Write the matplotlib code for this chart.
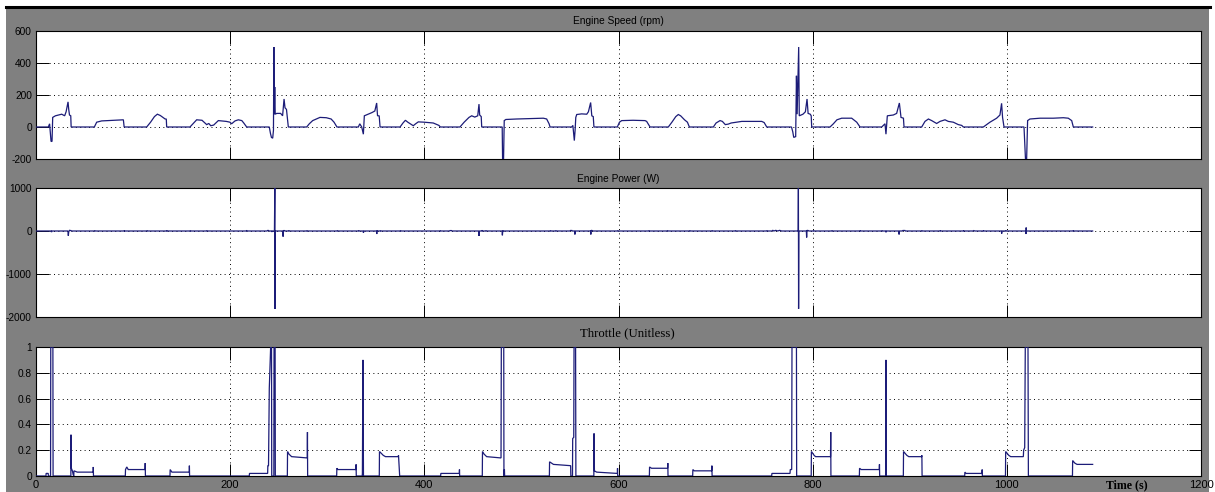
import matplotlib
matplotlib.use("Agg")
import matplotlib.pyplot as plt
from matplotlib.patches import Rectangle
from matplotlib.lines import Line2D

# ---------------------------------------------------------------- data
# (time [s], value) vertices of each recorded signal
speed_trace = [
    (0, 0), (12.7, 0), (14.0, 20), (15.5, -90), (16.5, -90), (17.2, 60), (20, 70), (26.5, 80),
    (29.5, 70), (31.0, 95), (33.0, 157), (33.7, 110), (34.5, 75), (35.8, 70), (36.2, 0),
    (60.1, 0), (62.5, 30), (67.6, 38), (80, 42), (90, 45), (90.8, 0),
    (114, 0), (118, 30), (122, 65), (125, 80), (128, 72), (133, 50), (134.2, 50), (134.6, 0),
    (158.6, 0), (165.5, 45), (171, 42), (175.8, 15), (178, 22), (180, 8), (183, 12), (187.8, 40),
    (196, 35), (199.8, 30), (201.5, 20), (205, 38), (208.4, 45), (212, 40), (214, 25), (217, 0),
    (240.3, 0), (241.5, -40), (242.5, -65), (243.8, -70), (244.6, -20), (245.0, 500), (245.4, 80),
    (245.9, 250), (246.4, 80), (248, 85), (252, 85), (254, 70), (255.5, 175), (256.5, 120),
    (258, 110), (259.9, 0),
    (278.8, 0), (281.5, 20), (285, 40), (292.5, 60), (299, 58), (304, 50), (307, 30), (310, 0),
    (332, 0), (333.5, 20), (335.5, 0), (337.2, -45), (338.2, 70), (342, 80), (346, 90), (349, 100),
    (350.9, 150), (351.8, 70), (353.5, 70), (354.4, 0),
    (375, 0), (378, 25), (380.5, 42), (383, 30), (388.6, 8), (391, 20), (393.8, 32), (400, 30),
    (409.2, 25), (415, 10), (416.5, 0),
    (436.7, 0), (441, 30), (446, 60), (448.8, 70), (452, 62), (455, 70), (456.3, 143), (457, 75),
    (458.6, 65), (459.1, 0),
    (480.2, 0), (480.6, -200), (481.6, -200), (482.3, 40), (484, 47), (495, 50), (505, 52),
    (512.3, 53), (522.6, 55), (526, 50), (528.5, 20), (529.5, 0),
    (551.8, 0), (553, 10), (554.5, -85), (555.3, -20), (556, 60), (557, 78), (562, 82), (567.3, 80),
    (569, 95), (571.3, 153), (572.5, 70), (574, 65), (574.7, 0),
    (598.8, 0), (601, 30), (603.3, 40), (615, 42), (627.3, 40), (629, 35), (632.5, 0),
    (651.3, 0), (655, 30), (659, 65), (661.6, 78), (664, 70), (668, 45), (671, 30), (673, 0),
    (697.7, 0), (700.5, 25), (704.6, 40), (707, 35), (710, 15), (713, 18), (716, 25), (721.7, 30),
    (727, 35), (735, 35), (747.5, 35), (750, 28), (752.7, 0),
    (778.2, 0), (779.5, -30), (780.5, -65), (782.5, -60), (783.3, 320), (784, 80), (785.6, 500),
    (786.2, 70), (790, 80), (792.5, 95), (794.2, 175), (795.3, 85), (797.5, 80), (798.5, 70),
    (799, 0),
    (817.9, 0), (821.3, 20), (825, 45), (829.9, 55), (840.2, 55), (845.4, 30), (848.8, 0),
    (871.1, 0), (874.5, 20), (875.5, -45), (876.9, 70), (883.1, 75), (886.5, 85), (889.3, 150),
    (891, 60), (893.5, 55), (894.1, 0),
    (912.3, 0), (915.7, 35), (919.2, 50), (922.6, 40), (927.7, 22), (931.2, 35), (936.3, 45),
    (939.7, 35), (944.9, 30), (950, 15), (953.5, 10), (955.2, 0),
    (975.8, 0), (982.6, 30), (989.5, 55), (992.9, 75), (994.6, 148), (995.6, 60), (997.1, 0),
    (1017.7, 0), (1019.2, -200), (1020.4, -200), (1021.4, 40), (1023.8, 50), (1034.2, 55),
    (1047.9, 55), (1058.2, 58), (1063.3, 55), (1066.8, 40), (1068.5, 0),
    (1088.4, 0),
]

power_trace = [
    (0, 0), (15.6, 0), (16.0, -25), (16.4, 0), (32.9, 0), (33.3, -110), (33.7, -20), (34.5, 15),
    (36, 10), (36.5, 0),
    (60, 0), (60.5, 10), (61, 0), (90.5, 0), (91, 12), (91.5, 0), (114, 0), (114.5, 10), (115, 0),
    (134.4, 0), (134.8, 12), (135.2, 0),
    (158.6, 0), (159, 10), (159.5, 0), (175.5, 0), (176, 10), (176.5, 0), (216.5, 0), (217, 15),
    (217.5, 0), (238, 0), (238.5, 12), (239.5, 12), (240, 0),
    (242.5, 0), (243, -20), (243.5, 0), (245.6, 0), (245.8, 430), (246.0, 1000), (246.2, -1810),
    (246.5, 0),
    (254.2, 0), (254.5, -130), (254.9, 10), (256, 10), (256.4, 0), (260, 0), (260.5, 12), (261, 0),
    (278.8, 0), (279.2, 10), (279.6, 0),
    (310, 0), (310.5, 10), (311, 0), (332, 0), (332.5, 12), (333, 0), (337, 0), (337.3, -40),
    (337.6, 0), (350.7, 0), (351, -70), (351.3, 10), (352, 0), (354.4, 0), (354.8, 10), (355.2, 0),
    (375, 0), (375.5, 10), (376, 0), (416, 0), (416.5, 10), (417, 0), (426, 0), (426.5, 10),
    (428, 10), (428.5, 0),
    (456, 0), (456.3, -115), (456.7, 0), (459, 0), (459.5, 15), (460, 0), (463, 0), (463.5, 10),
    (464, 0), (480.1, 0), (480.4, -100), (480.8, 10), (481.2, 0),
    (529.5, 0), (530, 10), (530.5, 0), (535, 0), (535.5, 10), (536, 0), (550, 0), (550.5, 12),
    (552, 12), (552.5, 0), (554.8, 0), (555.1, -80), (555.4, 0), (571.2, 0), (571.5, -80),
    (571.8, 15), (573, 10), (573.5, 0),
    (598.8, 0), (599.3, 10), (599.8, 0), (631, 0), (631.5, 10), (632, 0), (650, 0), (650.5, 10),
    (651, 0), (673, 0), (673.5, 10), (674, 0), (696, 0), (696.5, 10), (697, 0), (720, 0),
    (720.5, 10), (721, 0),
    (752.5, 0), (753, 10), (753.5, 0), (758, 0), (759, 15), (760, 0), (762, 15), (764, 0),
    (766, 15), (768, 0),
    (785.1, 0), (785.3, 1000), (785.5, -1810), (785.8, 0), (793.5, 0), (793.8, -150),
    (794.1, 15), (795.5, 10), (796, 0), (800.5, 0), (801, 10), (801.5, 0),
    (819.5, 0), (820, 10), (820.5, 0), (848.5, 0), (849, 12), (849.5, 0), (871, 0), (871.5, 10),
    (872, 0), (875.3, 0), (875.5, -30), (875.8, 0), (888.7, 0), (889, -80), (889.3, 0), (892, 0),
    (893, 12), (895, 12), (895.5, 0), (912, 0), (912.5, 10), (913, 0), (931, 0), (931.5, 12),
    (932, 0),
    (955, 0), (955.5, 12), (956, 0), (965, 0), (966, 10), (967, 0), (975.5, 0), (976, 12),
    (976.5, 0), (994.4, 0), (994.7, -60), (995, 0), (998.5, 0), (999, 12), (999.5, 0),
    (1019.4, 0), (1019.7, -70), (1019.9, 80), (1020.2, 0), (1068, 0), (1068.5, 12), (1069, 0),
    (1088.4, 0),
]

throttle_trace = [
    (0, 0), (10.3, 0), (10.4, 0.02), (12.6, 0.02), (12.7, 0), (15.0, 0), (15.2, 1), (17.4, 1),
    (17.6, 0),
    (35.9, 0), (36.05, 0.32), (36.4, 0.06), (37.5, 0.04), (38.3, 0.01), (38.9, 0.0), (39.1, 0.04),
    (42.5, 0.03), (58.9, 0.03), (59.0, 0.07), (59.2, 0),
    (92, 0), (92.2, 0.05), (93.5, 0.07), (95, 0.05), (112.3, 0.05), (112.5, 0.10), (112.7, 0),
    (138, 0), (138.2, 0.05), (140, 0.03), (157.9, 0.03), (158.0, 0.08), (158.2, 0),
    (219.7, 0), (219.9, 0.02), (238.6, 0.02), (238.8, 0.08), (239.5, 0.08), (240.3, 0.68),
    (241.7, 1), (242.6, 1), (242.8, 0), (245.0, 0), (245.2, 1), (246.3, 1), (246.5, 0),
    (258.9, 0), (259.1, 0.19), (260.5, 0.17), (263.3, 0.15), (279.4, 0.14), (279.6, 0.34),
    (279.8, 0),
    (309.7, 0), (309.9, 0.06), (311, 0.05), (329.6, 0.05), (329.7, 0.09), (329.9, 0),
    (336.0, 0), (336.2, 0.02), (336.8, 0.9), (337.1, 0.34), (337.3, 0),
    (353.6, 0), (353.8, 0.19), (357.7, 0.16), (360, 0.15), (373.2, 0.15), (373.4, 0.16),
    (374.6, 0),
    (416.8, 0), (417.0, 0.02), (436.0, 0.02), (436.2, 0.05), (436.4, 0),
    (459.7, 0), (459.9, 0.19), (461.5, 0.17), (464.2, 0.15), (478.8, 0.14), (479.0, 0.14),
    (479.3, 1), (481.8, 1), (482.0, 0), (482.5, 0.05), (482.7, 0),
    (528.8, 0), (529.0, 0.11), (533, 0.09), (550.7, 0.08), (550.9, 0), (552.6, 0), (552.8, 0.29),
    (553.9, 0.3), (554.2, 1), (555.8, 1), (556.1, 0),
    (574.6, 0), (574.8, 0.33), (575.2, 0.04), (577.5, 0.03), (598.8, 0.02), (599.0, 0.06),
    (599.2, 0),
    (631.8, 0), (632.0, 0.07), (634, 0.06), (650.6, 0.06), (650.8, 0.10), (651.0, 0),
    (676.4, 0), (676.6, 0.05), (678, 0.04), (696.0, 0.04), (696.2, 0.08), (696.4, 0),
    (757.8, 0), (758.0, 0.02), (776.7, 0.02), (776.9, 0.05), (778.4, 0.05), (778.7, 1),
    (783.3, 1), (783.5, 0),
    (798.5, 0), (798.7, 0.19), (801.5, 0.16), (803, 0.15), (818.4, 0.15), (818.6, 0.34),
    (818.8, 0),
    (848.1, 0), (848.3, 0.06), (850, 0.05), (868.6, 0.05), (868.8, 0.09), (869.0, 0),
    (875.3, 0), (875.5, 0.9), (875.8, 0),
    (893.4, 0), (893.6, 0.19), (897, 0.16), (899, 0.15), (912.3, 0.15), (912.5, 0.16), (912.7, 0),
    (956.6, 0), (956.8, 0.03), (958, 0.02), (974.4, 0.02), (974.6, 0.05), (974.8, 0),
    (998.6, 0), (998.8, 0.19), (1002, 0.16), (1004, 0.15), (1017.0, 0.15), (1017.3, 0.2),
    (1018.4, 0.22), (1019.0, 1), (1021.8, 1), (1022.2, 0),
    (1067.6, 0), (1067.8, 0.12), (1070, 0.10), (1072.3, 0.09), (1088.4, 0.09),
]

time_ticks = [0, 200, 400, 600, 800, 1000, 1200]
speed_ticks = [-200, 0, 200, 400, 600]
power_ticks = [-2000, -1000, 0, 1000]
throttle_ticks = [0, 0.2, 0.4, 0.6, 0.8, 1]
throttle_tick_labels = ["0", "0.2", "0.4", "0.6", "0.8", "1"]

# ---------------------------------------------------------------- figure
W, H = 1215, 492
fig = plt.figure(figsize=(W / 100, H / 100), dpi=100, facecolor="white")


def fx(px):
    return px / W


def fy(py):
    return 1 - py / H


# grey scope window with a dark frame line along the top (kept behind the axes)
fig.patches.append(Rectangle((fx(6), 0), fx(1209) - fx(6), fy(8), transform=fig.transFigure,
                             facecolor="#808080", edgecolor="none", zorder=-10))
fig.lines.append(Line2D([fx(6), fx(1210)], [fy(7), fy(7)], transform=fig.transFigure,
                        color="black", lw=2.2, zorder=-5))

LINE = "#1c1c78"
SANS = "Liberation Sans"
SERIF = "Liberation Serif"
YTICK_FS = 7.3
XTICK_FS = 8.0


def make_axes(top_px, bot_px):
    ax = fig.add_axes([fx(36), fy(bot_px), fx(1201) - fx(36), fy(top_px) - fy(bot_px)])
    ax.set_facecolor("white")
    for sp in ax.spines.values():
        sp.set_color("black")
        sp.set_linewidth(0.8)
    ax.set_xlim(0, 1200)
    ax.set_xticks(time_ticks)
    ax.tick_params(direction="in", length=9, width=0.7, top=True, right=True,
                   pad=3, colors="black")
    ax.grid(True, color="black", linestyle=(0, (1, 3.5)), linewidth=0.7)
    ax.set_axisbelow(True)
    return ax


def draw(ax, trace):
    t = [p[0] for p in trace]
    v = [p[1] for p in trace]
    ax.plot(t, v, color=LINE, lw=0.9, solid_joinstyle="miter", zorder=3)


# Engine speed
ax1 = make_axes(31, 159)
draw(ax1, speed_trace)
ax1.set_ylim(-200, 600)
ax1.set_yticks(speed_ticks)
ax1.set_yticklabels([str(v) for v in speed_ticks], fontfamily=SANS, fontsize=YTICK_FS)
ax1.tick_params(labelbottom=False)

# Engine power
ax2 = make_axes(188, 317)
draw(ax2, power_trace)
ax2.set_ylim(-2000, 1000)
ax2.set_yticks(power_ticks)
ax2.set_yticklabels([str(v) for v in power_ticks], fontfamily=SANS, fontsize=YTICK_FS)
ax2.tick_params(labelbottom=False)

# Throttle
ax3 = make_axes(347, 476)
draw(ax3, throttle_trace)
ax3.set_ylim(0, 1)
ax3.set_yticks(throttle_ticks)
ax3.set_yticklabels(throttle_tick_labels, fontfamily=SANS, fontsize=YTICK_FS)
ax3.set_xticklabels([str(v) for v in time_ticks], fontfamily=SANS, fontsize=XTICK_FS)

# panel titles and axis caption
fig.text(fx(618.5), fy(21), "Engine Speed (rpm)", ha="center", va="center",
         fontfamily=SANS, fontsize=7.3, color="black")
fig.text(fx(618.5), fy(178.5), "Engine Power (W)", ha="center", va="center",
         fontfamily=SANS, fontsize=7.3, color="black")
fig.text(fx(627.5), fy(333.5), "Throttle (Unitless)", ha="center", va="center",
         fontfamily=SERIF, fontsize=9.2, color="black")
fig.text(fx(1127), fy(485), "Time (s)", ha="center", va="center",
         fontfamily=SERIF, fontweight="bold", fontsize=8.6, color="black")

fig.savefig("out.png", dpi=100, facecolor=fig.get_facecolor())
